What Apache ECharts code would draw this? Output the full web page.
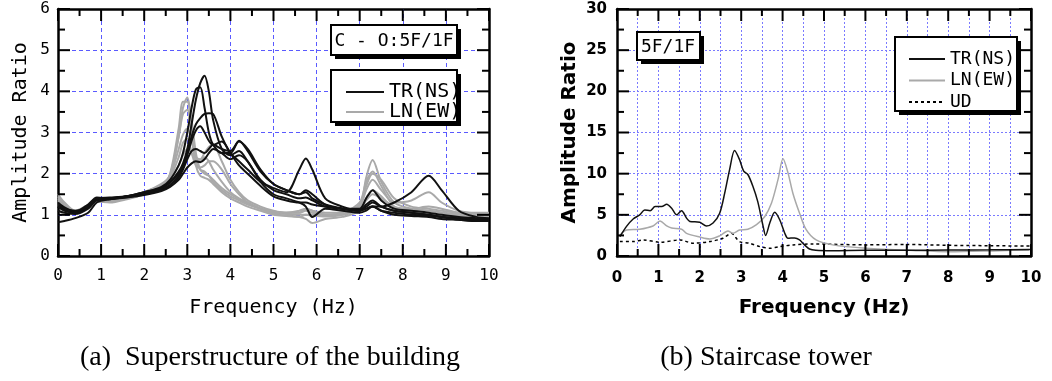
<!DOCTYPE html>
<html>
<head>
<meta charset="utf-8">
<script src="https://cdn.jsdelivr.net/npm/echarts@6/dist/echarts.min.js"></script>
<style>
html, body { margin: 0; padding: 0; background: #fff; }
#chart { width: 1052px; height: 381px; }
</style>
</head>
<body>
<div id="chart"></div>
<script>
// (a) superstructure: common frequency steps, one array per record
var freqA = [0, 0.15, 0.4, 0.7, 0.9, 1.2, 1.6, 2.0, 2.4, 2.6, 2.8, 2.9, 3.0, 3.1, 3.2, 3.3, 3.4, 3.5, 3.6, 3.8, 4.0, 4.2, 4.4, 4.7, 5.0, 5.3, 5.6, 5.75, 5.9, 6.2, 6.6, 7.0, 7.15, 7.3, 7.5, 7.8, 8.2, 8.6, 8.9, 9.3, 9.7, 10.0];

var lnA1 = [1.35, 1.2, 1.08, 1.2, 1.35, 1.35, 1.42, 1.55, 1.72, 1.95, 2.9, 3.6, 3.85, 3.3, 2.5, 2.1, 2.0, 1.95, 1.85, 1.65, 1.5, 1.38, 1.28, 1.15, 1.05, 1.02, 1.0, 1.0, 1.0, 1.0, 1.05, 1.3, 1.8, 2.05, 1.7, 1.2, 1.1, 1.1, 1.05, 1.02, 1.0, 0.98];
var lnA2 = [1.45, 1.25, 1.05, 1.22, 1.38, 1.32, 1.4, 1.5, 1.7, 2.0, 3.1, 3.75, 3.75, 3.0, 2.4, 2.3, 2.4, 2.3, 2.1, 1.8, 1.55, 1.4, 1.3, 1.15, 1.08, 1.05, 1.05, 1.1, 1.05, 1.0, 1.0, 1.2, 1.9, 2.33, 1.8, 1.3, 1.15, 1.1, 1.05, 1.0, 0.98, 0.97];
var lnA3 = [1.3, 1.2, 1.1, 1.25, 1.4, 1.35, 1.45, 1.55, 1.75, 1.95, 2.6, 2.95, 3.1, 2.8, 2.4, 2.35, 2.5, 2.65, 2.7, 2.3, 1.85, 1.55, 1.35, 1.2, 1.1, 1.05, 1.05, 1.15, 1.1, 1.05, 1.05, 1.25, 1.7, 2.0, 1.85, 1.4, 1.2, 1.15, 1.1, 1.05, 1.02, 1.0];
var lnA4 = [1.5, 1.3, 1.1, 1.2, 1.32, 1.3, 1.38, 1.5, 1.68, 1.9, 2.4, 2.75, 2.85, 2.5, 2.2, 2.15, 2.2, 2.3, 2.3, 2.1, 1.75, 1.5, 1.3, 1.15, 1.02, 0.98, 0.95, 0.9, 0.8, 0.9, 0.95, 1.1, 1.4, 1.6, 1.45, 1.15, 1.1, 1.0, 0.98, 0.97, 0.96, 0.95];
var lnA5 = [1.4, 1.22, 1.08, 1.2, 1.36, 1.33, 1.4, 1.52, 1.7, 1.98, 2.9, 3.45, 3.55, 2.9, 2.2, 1.95, 1.9, 1.85, 1.75, 1.55, 1.4, 1.3, 1.2, 1.1, 1.0, 0.97, 0.95, 1.0, 0.98, 0.96, 1.0, 1.2, 1.6, 1.85, 1.6, 1.3, 1.35, 1.55, 1.3, 1.1, 1.05, 1.05];
var lnA6 = [1.25, 1.15, 1.05, 1.2, 1.35, 1.32, 1.42, 1.55, 1.72, 1.9, 2.2, 2.45, 2.6, 2.5, 2.3, 2.1, 2.05, 1.95, 1.8, 1.6, 1.45, 1.35, 1.25, 1.15, 1.08, 1.05, 1.1, 1.15, 1.1, 1.0, 1.02, 1.15, 1.35, 1.5, 1.4, 1.2, 1.15, 1.2, 1.15, 1.05, 1.02, 1.0];

var trA1 = [1.2, 1.12, 1.05, 1.2, 1.4, 1.42, 1.45, 1.52, 1.65, 1.8, 2.05, 2.25, 2.6, 3.2, 3.8, 4.2, 4.38, 4.0, 3.3, 2.6, 2.45, 2.55, 2.3, 1.85, 1.6, 1.5, 1.4, 1.42, 1.35, 1.2, 1.15, 1.12, 1.2, 1.3, 1.2, 1.1, 1.05, 1.0, 0.95, 0.92, 0.88, 0.88];
var trA2 = [1.3, 1.18, 1.08, 1.25, 1.42, 1.4, 1.45, 1.55, 1.68, 1.85, 2.2, 2.5, 3.0, 3.6, 4.05, 4.1, 3.6, 3.0, 2.7, 2.5, 2.5, 2.8, 2.55, 2.05, 1.75, 1.6, 1.5, 1.55, 1.4, 1.25, 1.15, 1.1, 1.25, 1.35, 1.2, 1.1, 1.05, 1.0, 0.95, 0.9, 0.9, 0.9];
var trA3 = [1.2, 1.1, 1.05, 1.18, 1.38, 1.4, 1.45, 1.55, 1.65, 1.78, 2.0, 2.2, 2.5, 2.9, 3.2, 3.35, 3.45, 3.47, 3.45, 2.9, 2.5, 2.3, 2.1, 1.8, 1.65, 1.55, 2.1, 2.37, 2.1, 1.4, 1.2, 1.1, 1.15, 1.2, 1.1, 1.0, 0.97, 0.95, 0.9, 0.88, 0.85, 0.85];
var trA4 = [0.82, 0.85, 0.92, 1.05, 1.3, 1.38, 1.43, 1.5, 1.6, 1.72, 1.95, 2.15, 2.45, 2.8, 3.05, 3.15, 3.0, 2.8, 2.7, 2.78, 2.5, 2.2, 2.0, 1.7, 1.45, 1.35, 1.3, 1.3, 1.25, 1.2, 1.15, 1.1, 1.15, 1.2, 1.2, 1.3, 1.55, 1.95, 1.6, 1.1, 0.95, 0.92];
var trA5 = [1.25, 1.15, 1.1, 1.2, 1.4, 1.4, 1.45, 1.52, 1.62, 1.72, 1.9, 2.1, 2.35, 2.55, 2.6, 2.55, 2.5, 2.6, 2.7, 2.6, 2.55, 2.78, 2.6, 2.1, 1.75, 1.6, 1.5, 1.6, 1.5, 1.25, 1.15, 1.15, 1.4, 1.6, 1.35, 1.15, 1.1, 1.05, 1.0, 0.95, 0.92, 0.9];
var trA6 = [1.1, 1.05, 1.02, 1.15, 1.35, 1.38, 1.42, 1.48, 1.58, 1.68, 1.85, 2.0, 2.15, 2.25, 2.3, 2.28, 2.35, 2.5, 2.6, 2.5, 2.35, 2.45, 2.3, 1.8, 1.5, 1.4, 1.3, 1.2, 0.95, 1.15, 1.1, 1.05, 1.1, 1.2, 1.1, 1.05, 1.0, 0.98, 0.95, 0.88, 0.85, 0.85];

// (b) staircase tower
var freqTR = [0.07, 0.23, 0.39, 0.55, 0.67, 0.8, 0.92, 1.08, 1.2, 1.32, 1.44, 1.56, 1.68, 1.76, 2.0, 2.16, 2.32, 2.48, 2.6, 2.72, 2.84, 2.96, 3.06, 3.16, 3.28, 3.4, 3.53, 3.59, 3.69, 3.81, 3.93, 4.05, 4.13, 4.29, 4.41, 4.53, 4.65, 4.8, 5.2, 6.0, 7.0, 8.0, 9.0, 10.0];
var valTR = [2.35, 3.6, 4.5, 5.0, 5.6, 5.5, 6.0, 6.0, 6.3, 5.8, 5.0, 5.5, 4.6, 4.2, 4.1, 3.65, 4.0, 5.2, 7.6, 10.5, 12.8, 11.7, 10.3, 9.9, 8.5, 6.6, 3.6, 2.5, 4.0, 5.3, 4.4, 2.8, 2.15, 2.2, 1.95, 1.35, 0.85, 0.7, 0.65, 0.7, 0.7, 0.72, 0.75, 0.8];
var freqLN = [0.07, 0.23, 0.55, 0.87, 1.04, 1.2, 1.32, 1.56, 1.68, 2.0, 2.24, 2.48, 2.68, 2.8, 2.96, 3.16, 3.37, 3.57, 3.73, 3.89, 4.01, 4.13, 4.25, 4.41, 4.57, 4.81, 5.21, 6.02, 7.22, 8.02, 9.23, 9.95];
var valLN = [2.5, 3.15, 3.25, 3.65, 4.25, 3.65, 3.4, 3.25, 2.75, 2.3, 2.07, 2.45, 3.05, 2.75, 3.15, 3.25, 3.8, 4.8, 6.4, 9.3, 11.8, 10.1, 7.6, 5.2, 3.2, 1.95, 1.35, 0.94, 0.65, 0.52, 0.65, 0.73];
var freqUD = [0.07, 0.4, 0.63, 1.04, 1.52, 1.84, 2.24, 2.56, 2.76, 2.96, 3.2, 3.45, 3.69, 3.93, 4.25, 4.73, 6.0, 7.0, 8.0, 9.0, 10.0];
var valUD = [1.75, 1.75, 1.95, 1.67, 1.95, 1.55, 1.75, 2.15, 2.75, 1.75, 1.55, 1.14, 0.94, 1.14, 1.35, 1.46, 1.35, 1.4, 1.3, 1.25, 1.2];

// blue grid line positions
var gridXA = [1, 2, 3, 4, 5, 6, 7, 8, 9];
var gridYA = [1, 2, 3, 4, 5];
var gridXB = [0.5, 1, 1.5, 2, 2.5, 3, 3.5, 4, 4.5, 5, 5.5, 6, 6.5, 7, 7.5, 8, 8.5, 9, 9.5];
var gridYB = [5, 10, 15, 20, 25];

// frame tick positions
var ticksX = [0, 1, 2, 3, 4, 5, 6, 7, 8, 9, 10];
var minorX = [0.5, 1.5, 2.5, 3.5, 4.5, 5.5, 6.5, 7.5, 8.5, 9.5];
var ticksYA = [0, 1, 2, 3, 4, 5, 6];
var minorYA = [0.5, 1.5, 2.5, 3.5, 4.5, 5.5];
var ticksYB = [0, 5, 10, 15, 20, 25, 30];
var minorYB = [2.5, 7.5, 12.5, 17.5, 22.5, 27.5];

function zip(xs, ys) {
	var out = [];
	for (var i = 0; i < xs.length; i++) {
		out.push([xs[i], ys[i]]);
	}
	return out;
}

var mono = 'DejaVu Sans Mono';
var sans = 'DejaVu Sans';

function rectA() { return { left: 58, top: 9, width: 431, height: 247 }; }
function rectB() { return { left: 617, top: 9, width: 414, height: 247 }; }

// one side of the black frame; the inward ticks are added after the first render
function frameAxis(grid, pos, max, step, labels, font, bold) {
	var isX = pos == 'top' || pos == 'bottom';
	return {
		type: 'value',
		gridIndex: grid,
		position: pos,
		min: 0,
		max: max,
		interval: step,
		axisLine: { show: true, lineStyle: { color: '#000', width: 2.5 } },
		axisTick: { show: false },
		minorTick: { show: false },
		axisLabel: {
			show: labels,
			color: '#000',
			fontFamily: font,
			fontSize: bold ? 15 : 16,
			fontWeight: bold ? 'bold' : 'normal',
			margin: isX ? (bold ? 15 : 12) : (bold ? 10 : 8)
		},
		splitLine: { show: false }
	};
}

// partner axis that never crosses zero, so the frame side stays put
function dummyAxis(grid) {
	return { type: 'value', gridIndex: grid, show: false, min: 1, max: 2 };
}

function gridLines(xs, ys, color, dash) {
	var data = [];
	xs.forEach(function(v) { data.push({ xAxis: v }); });
	ys.forEach(function(v) { data.push({ yAxis: v }); });
	return {
		silent: true, z: 1, symbol: ['none', 'none'], label: { show: false },
		lineStyle: { color: color, type: dash, width: 1 },
		emphasis: { disabled: true },
		data: data
	};
}

var xA = frameAxis(0, 'bottom', 10, 1, true, mono, false);
xA.name = 'Frequency (Hz)';
xA.nameLocation = 'middle';
xA.nameGap = 42;
xA.nameTextStyle = { color: '#000', fontFamily: mono, fontSize: 20, verticalAlign: 'top' };

var yA = frameAxis(0, 'left', 6, 1, true, mono, false);
yA.name = 'Amplitude Ratio';
yA.nameLocation = 'middle';
yA.nameGap = 27;
yA.nameTextStyle = { color: '#000', fontFamily: mono, fontSize: 20 };

var xB = frameAxis(1, 'bottom', 10, 1, true, sans, true);
xB.name = 'Frequency (Hz)';
xB.nameLocation = 'middle';
xB.nameGap = 42;
xB.nameTextStyle = { color: '#000', fontFamily: sans, fontWeight: 'bold', fontSize: 20, verticalAlign: 'top' };

var yB = frameAxis(1, 'left', 30, 5, true, sans, true);
yB.name = 'Amplitude Ratio';
yB.nameLocation = 'middle';
yB.nameGap = 37;
yB.nameTextStyle = { color: '#000', fontFamily: sans, fontWeight: 'bold', fontSize: 20 };

var series = [];
[lnA1, lnA2, lnA3, lnA4, lnA5, lnA6].forEach(function(v) {
	series.push({
		name: 'LN(EW)', type: 'line', xAxisIndex: 0, yAxisIndex: 0, z: 3,
		data: zip(freqA, v), smooth: 0.3, symbol: 'none',
		lineStyle: { color: '#a9a9a9', width: 2 }, itemStyle: { color: '#a9a9a9' }
	});
});
[trA1, trA2, trA3, trA4, trA5, trA6].forEach(function(v) {
	series.push({
		name: 'TR(NS)', type: 'line', xAxisIndex: 0, yAxisIndex: 0, z: 3,
		data: zip(freqA, v), smooth: 0.3, symbol: 'none',
		lineStyle: { color: '#111', width: 2 }, itemStyle: { color: '#111' }
	});
});
series[0].markLine = gridLines(gridXA, gridYA, '#5a5aff', [4, 3]);

series.push({
	name: 'UD', type: 'line', xAxisIndex: 1, yAxisIndex: 1, z: 3,
	data: zip(freqUD, valUD), smooth: 0.3, symbol: 'none',
	lineStyle: { color: '#000', width: 1.5, type: [3, 3] }, itemStyle: { color: '#000' },
	markLine: gridLines(gridXB, gridYB, '#7a7aff', [2, 2])
});
series.push({
	name: 'LN(EW)', type: 'line', xAxisIndex: 1, yAxisIndex: 1, z: 3,
	data: zip(freqLN, valLN), smooth: 0.3, symbol: 'none',
	lineStyle: { color: '#a9a9a9', width: 1.5 }, itemStyle: { color: '#a9a9a9' }
});
series.push({
	name: 'TR(NS)', type: 'line', xAxisIndex: 1, yAxisIndex: 1, z: 3,
	data: zip(freqTR, valTR), smooth: 0.3, symbol: 'none',
	lineStyle: { color: '#111', width: 1.5 }, itemStyle: { color: '#111' }
});

function boxWithShadow(x, y, w, h) {
	return [
		{ type: 'rect', z: 10, shape: { x: x + 4, y: y + 4, width: w, height: h }, style: { fill: '#000' } },
		{ type: 'rect', z: 11, shape: { x: x, y: y, width: w, height: h }, style: { fill: '#fff', stroke: '#000', lineWidth: 2 } }
	];
}

function label(x, y, text, font, size) {
	return { type: 'text', z: 12, x: x, y: y, style: { text: text, fontFamily: font, fontSize: size, fill: '#000', textAlign: 'center', textVerticalAlign: 'middle' } };
}

var myChart = echarts.init(document.getElementById('chart'));

var option = {
	animation: false,
	backgroundColor: '#fff',
	grid: [rectA(), rectB(), rectA(), rectA(), rectB(), rectB()],
	xAxis: [
		xA,
		xB,
		frameAxis(2, 'top', 10, 1, false, mono, false),
		dummyAxis(3),
		frameAxis(4, 'top', 10, 1, false, sans, true),
		dummyAxis(5)
	],
	yAxis: [
		yA,
		yB,
		dummyAxis(2),
		frameAxis(3, 'right', 6, 1, false, mono, false),
		dummyAxis(4),
		frameAxis(5, 'right', 30, 5, false, sans, true)
	],
	legend: [
		{
			data: ['TR(NS)', 'LN(EW)'], orient: 'vertical', left: 340, top: 77, z: 20,
			itemWidth: 38, itemHeight: 20, itemGap: 0, selectedMode: false,
			itemStyle: { opacity: 0 },
			textStyle: { fontFamily: mono, fontSize: 20, color: '#000' }
		},
		{
			data: ['TR(NS)', 'LN(EW)', 'UD'], orient: 'vertical', left: 903, top: 45, z: 20,
			itemWidth: 36, itemHeight: 18, itemGap: 3.5, selectedMode: false,
			itemStyle: { opacity: 0 },
			textStyle: { fontFamily: mono, fontSize: 18, color: '#000' }
		}
	],
	series: series
};

myChart.setOption(option);

// inward frame ticks, placed through the grid's own scales
function frameTicks(gridIndex, xmax, ymax, xs, xsMinor, ys, ysMinor) {
	var out = [];
	function seg(x1, y1, x2, y2) {
		out.push({ type: 'line', z: 5, silent: true, shape: { x1: x1, y1: y1, x2: x2, y2: y2 }, style: { stroke: '#000', lineWidth: 2 } });
	}
	function alongX(vals, len) {
		vals.forEach(function(v) {
			var b = myChart.convertToPixel({ gridIndex: gridIndex }, [v, 0]);
			var t = myChart.convertToPixel({ gridIndex: gridIndex }, [v, ymax]);
			seg(b[0], b[1], b[0], b[1] - len);
			seg(t[0], t[1], t[0], t[1] + len);
		});
	}
	function alongY(vals, len) {
		vals.forEach(function(v) {
			var l = myChart.convertToPixel({ gridIndex: gridIndex }, [0, v]);
			var r = myChart.convertToPixel({ gridIndex: gridIndex }, [xmax, v]);
			seg(l[0], l[1], l[0] + len, l[1]);
			seg(r[0], r[1], r[0] - len, r[1]);
		});
	}
	alongX(xs, 12);
	alongX(xsMinor, 7);
	alongY(ys, 12);
	alongY(ysMinor, 7);
	return out;
}

var graphics = [].concat(
	frameTicks(0, 10, 6, ticksX, minorX, ticksYA, minorYA),
	frameTicks(1, 10, 30, ticksX, minorX, ticksYB, minorYB),
	boxWithShadow(331, 25, 126, 30),
	boxWithShadow(331, 70, 126, 52),
	boxWithShadow(637, 32, 63, 28),
	boxWithShadow(895, 37, 122, 74),
	[
		label(394, 41, 'C - O:5F/1F', mono, 18),
		label(668, 47, '5F/1F', mono, 18),
		label(270, 358, '(a)  Superstructure of the building', 'Liberation Serif', 28),
		label(766, 358, '(b) Staircase tower', 'Liberation Serif', 28)
	]
);

myChart.setOption({ graphic: graphics });
</script>
</body>
</html>
